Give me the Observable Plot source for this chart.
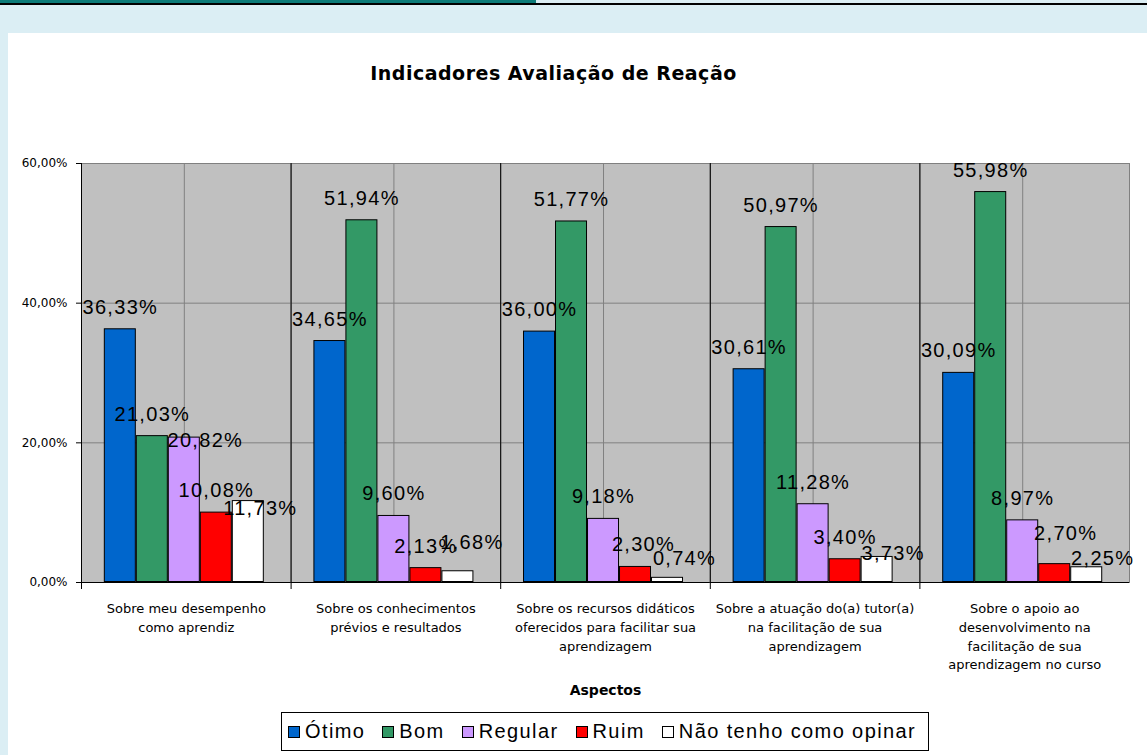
<!DOCTYPE html>
<html>
<head>
<meta charset="utf-8">
<script src="https://cdn.jsdelivr.net/npm/d3@7"></script>
<script src="https://cdn.jsdelivr.net/npm/@observablehq/plot@0.6"></script>
<style>
  body { margin: 0; width: 1147px; height: 755px; background: #dbeef4; position: relative; overflow: hidden; font-family: "DejaVu Sans", sans-serif; }
  #topteal { position: absolute; left: 0; top: 0; width: 536px; height: 3px; background: #0c7b78; }
  #topline { position: absolute; left: 0; top: 3px; width: 1147px; height: 2px; background: #000; }
  #panel { position: absolute; left: 8px; top: 33px; right: 0; bottom: 0; background: #fff; }
  #title { position: absolute; left: 0; width: 1107px; top: 64px; text-align: center; font-family: "DejaVu Sans", sans-serif; font-weight: bold; font-size: 19px; line-height: 19px; letter-spacing: 0.5px; color: #000; }
  #chart { position: absolute; left: 0; top: 120px; }
  #chart svg g[aria-label="text"] text { letter-spacing: 1.3px; }
  #chart svg g[aria-label="fx-axis label"] text { font-weight: bold; font-size: 14px; }
  #legend { position: absolute; left: 281px; top: 712px; width: 648px; height: 39px; box-sizing: border-box; border: 1px solid #000; background: #fff; display: flex; align-items: center; padding-left: 6px; font-family: "Liberation Sans", Arial, sans-serif; font-size: 20px; letter-spacing: 1.4px; color: #000; white-space: nowrap; }
  #legend .item { display: flex; align-items: center; margin-right: 17px; }
  #legend .sw { width: 10px; height: 10px; border: 1px solid #000; margin-right: 5px; }
</style>
</head>
<body>
<div id="topteal"></div>
<div id="topline"></div>
<div id="panel"></div>
<div id="title">Indicadores Avaliação de Reação</div>
<div id="chart"></div>
<div id="legend"></div>
<script>
const categories = [
  "Sobre meu desempenho como aprendiz",
  "Sobre os conhecimentos prévios e resultados",
  "Sobre os recursos didáticos oferecidos para facilitar sua aprendizagem",
  "Sobre a atuação do(a) tutor(a) na facilitação de sua aprendizagem",
  "Sobre o apoio ao desenvolvimento na facilitação de sua aprendizagem no curso"
];
const tickLabels = [
  "Sobre meu desempenho\ncomo aprendiz",
  "Sobre os conhecimentos\nprévios e resultados",
  "Sobre os recursos didáticos\noferecidos para facilitar sua\naprendizagem",
  "Sobre a atuação do(a) tutor(a)\nna facilitação de sua\naprendizagem",
  "Sobre o apoio ao\ndesenvolvimento na\nfacilitação de sua\naprendizagem no curso"
];
const series = ["Ótimo", "Bom", "Regular", "Ruim", "Não tenho como opinar"];
const colors = ["#0066cc", "#339966", "#cc99ff", "#ff0000", "#ffffff"];
const otimo    = [36.33, 34.65, 36.00, 30.61, 30.09];
const bom      = [21.03, 51.94, 51.77, 50.97, 55.98];
const regular  = [20.82, 9.60, 9.18, 11.28, 8.97];
const ruim     = [10.08, 2.13, 2.30, 3.40, 2.70];
const naoOpina = [11.73, 1.68, 0.74, 3.73, 2.25];
const yTicks = [0, 20, 40, 60];
const axisTitle = "Aspectos";

// layout: label nudges as in the original chart [category index, series index, dx, dy]
const labelNudges = [
  [0, 2, 21, 25], [0, 4, 12, 29],
  [1, 4, 14, -7],
  [2, 3, 8, 0], [2, 4, 17, 3],
  [3, 4, 16, 19],
  [4, 3, 11, -9], [4, 4, 16, 13]
];

const seriesValues = [otimo, bom, regular, ruim, naoOpina];
const data = [];
categories.forEach((c, i) => {
  series.forEach((s, j) => data.push({cat: c, serie: s, value: seriesValues[j][i], ci: i, si: j}));
});
const fmt = v => v.toFixed(2).replace(".", ",") + "%";
const nudgeOf = d => labelNudges.find(n => n[0] === d.ci && n[1] === d.si);

const textOpts = {fx: "cat", x: "serie", y: "value", text: d => fmt(d.value), lineAnchor: "bottom", fontFamily: "Liberation Sans", fontSize: 20, fill: "#000"};
const labelMarks = [Plot.text(data.filter(d => !nudgeOf(d)), {...textOpts, dy: -15})];
labelNudges.forEach(n => {
  const sub = data.filter(d => d.ci === n[0] && d.si === n[1]);
  labelMarks.push(Plot.text(sub, {...textOpts, dx: n[2], dy: -15 + n[3]}));
});

const chart = Plot.plot({
  width: 1147,
  height: 580,
  marginLeft: 81,
  marginRight: 18,
  marginTop: 43,
  marginBottom: 118,
  style: {fontFamily: "DejaVu Sans", background: "transparent", overflow: "visible", color: "#000"},
  fx: {domain: categories, padding: 0, round: false},
  x: {domain: series, paddingInner: 0, paddingOuter: 0.775, align: 0.46, round: false, axis: null},
  y: {domain: [0, 60]},
  color: {domain: series, range: colors},
  marks: [
    Plot.frame({fill: "#c0c0c0", stroke: "#808080"}),
    Plot.gridY(yTicks.slice(1), {stroke: "#808080", strokeOpacity: 1}),
    Plot.ruleX([series[2]], {stroke: "#808080"}),
    Plot.frame({anchor: "left", stroke: "#000", insetBottom: -6}),
    Plot.ruleY([0], {stroke: "#000"}),
    Plot.barY(data, {fx: "cat", x: "serie", y: "value", fill: "serie", stroke: "#000", inset: 0.5}),
    ...labelMarks,
    Plot.axisY({ticks: yTicks, tickSize: 5, tickPadding: 9, tickFormat: fmt, fontSize: 12, label: null}),
    Plot.axisFx({anchor: "bottom", tickSize: 0, tickPadding: 17, tickFormat: d => tickLabels[categories.indexOf(d)], fontSize: 13, lineHeight: 1.45, label: axisTitle, labelAnchor: "center", labelOffset: 112})
  ]
});
document.getElementById("chart").appendChild(chart);

const legend = document.getElementById("legend");
series.forEach((s, j) => {
  const item = document.createElement("div");
  item.className = "item";
  const sw = document.createElement("div");
  sw.className = "sw";
  sw.style.background = colors[j];
  const t = document.createElement("span");
  t.textContent = s;
  item.appendChild(sw);
  item.appendChild(t);
  legend.appendChild(item);
});
</script>
</body>
</html>
